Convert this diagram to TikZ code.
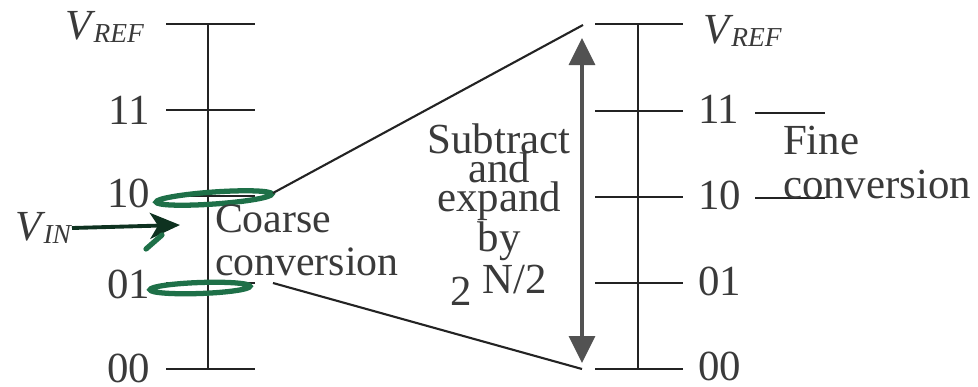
\documentclass[tikz,border=0pt]{standalone}
\usepackage{fontspec}
\setmainfont{Liberation Serif}
\usetikzlibrary{arrows.meta}

\definecolor{inkgray}{RGB}{58,58,58}
\definecolor{rulegray}{RGB}{35,35,35}
\definecolor{arrowgray}{RGB}{82,82,82}
\definecolor{markgreen}{RGB}{30,112,72}

\newcommand{\volt}[1]{\textit{V}\kern-0.6pt\raisebox{-1pt}{\fontsize{7.8}{7.8}\selectfont\itshape #1}}
\newcommand{\tightlines}[1]{\fontsize{12.2}{#1}\selectfont\lineskiplimit=-20pt\relax}

\begin{document}
\begin{tikzpicture}[x=1cm,y=1cm,line width=0.6pt,
  lbl/.style={inner sep=0pt,text=inkgray,font={\tightlines{12.2}}},
  tick/.style={draw=rulegray,line width=0.6pt},
  ring/.style={draw=markgreen,line width=1.5pt}]
  \useasboundingbox (0,0) rectangle (9.78,3.86);

  % coarse scale
  \coordinate (CT) at (2.08,3.62);
  \coordinate (CB) at (2.08,0.17);
  \draw[tick] (CT) -- (CB);
  \foreach \y [count=\i] in {3.62,2.76,1.90,1.03,0.17} {
    \coordinate (CL\i) at (1.66,\y);
    \coordinate (CR\i) at (2.55,\y);
    \draw[tick] (CL\i) -- (CR\i);
  }
  \node[lbl,anchor=east] (cref) at (1.45,3.59) {\volt{REF}};
  \foreach \y/\lab in {2.76/11,1.93/10,1.02/01,0.18/00}
    \node[lbl,anchor=east] (c-\lab) at (1.51,\y) {\lab};

  % fine scale
  \coordinate (FT) at (6.38,3.62);
  \coordinate (FB) at (6.38,0.17);
  \draw[tick] (FT) -- (FB);
  \foreach \y [count=\i] in {3.62,2.75,1.89,1.03,0.17} {
    \coordinate (FL\i) at (5.95,\y);
    \coordinate (FR\i) at (6.83,\y);
    \draw[tick] (FL\i) -- (FR\i);
  }
  \node[lbl,anchor=west] (fref) at (7.02,3.55) {\volt{REF}};
  \foreach \y/\lab in {2.77/11,1.91/10,1.05/01,0.20/00}
    \node[lbl,anchor=west] (f-\lab) at (6.97,\y) {\lab};

  % green marks round the selected coarse interval
  \draw[ring,rotate around={4:(2.14,1.88)}] (2.14,1.88)
    ellipse [x radius=0.58,y radius=0.06];
  \draw[ring,rotate around={2:(2.00,0.98)}] (2.00,0.98)
    ellipse [x radius=0.50,y radius=0.055];

  % input
  \node[lbl,anchor=east] (vin) at (0.72,1.58) {\volt{IN}};
  \coordinate (vtip) at (1.80,1.61);
  \draw[markgreen!45!black,line width=1.1pt,
    -{Stealth[length=0.3cm,width=0.26cm,inset=0.08cm]}] (vin.east) -- (vtip);
  \draw[ring,line cap=round] (1.62,1.51) -- (1.46,1.37);

  % expansion lines
  \coordinate (CU) at (2.73,1.93);
  \coordinate (CD) at (2.73,1.03);
  \coordinate (FU) at (5.83,3.61);
  \coordinate (FD) at (5.82,0.17);
  \draw[rulegray,line width=0.6pt] (CU) -- (FU);
  \draw[rulegray,line width=0.6pt] (CD) -- (FD);

  \coordinate (AT) at (5.82,3.48);
  \coordinate (AB) at (5.82,0.23);
  \draw[arrowgray,line width=0.9pt,
    {Triangle[length=0.27cm,width=0.26cm]}-{Triangle[length=0.27cm,width=0.26cm]}]
    (AB) -- (AT);

  \node[lbl,align=center,font={\tightlines{8.3}}] (expand) at (4.99,1.715)
    {Subtract\\and\\expand\\[3pt]by\\[7pt]2 \raisebox{3.4pt}{N/2}};

  \node[lbl,align=left,anchor=west,font={\fontsize{11.9}{12.2}\selectfont}]
    (coarse) at (2.14,1.455) {Coarse\\conversion};

  % fine conversion label
  \coordinate (M1a) at (7.55,2.73);
  \coordinate (M1b) at (8.25,2.73);
  \coordinate (M2a) at (7.55,1.88);
  \coordinate (M2b) at (8.25,1.88);
  \draw[tick] (M1a) -- (M1b);
  \draw[tick] (M2a) -- (M2b);
  \node[lbl,align=left,anchor=west,font={\tightlines{12.5}}] (fine)
    at (7.82,2.235) {Fine\\conversion};
\end{tikzpicture}
\end{document}
